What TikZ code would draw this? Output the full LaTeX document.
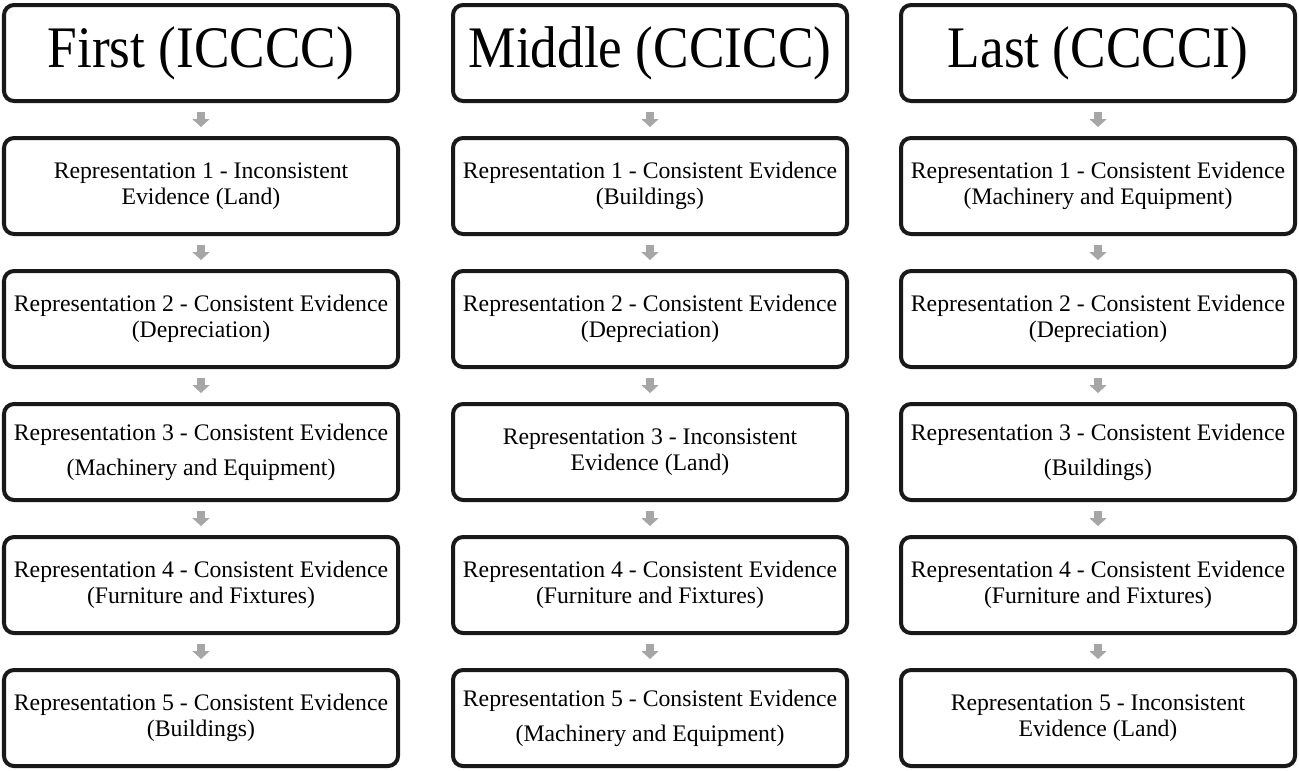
\documentclass[tikz,border=0pt]{standalone}
\usepackage{fontspec}
\setmainfont{Liberation Serif}
\newfontfamily\titlefont[FakeStretch=0.905]{Liberation Serif}
\usetikzlibrary{arrows.meta, positioning}
\tikzset{
    head/.style={draw=black!90, line width=0.08cm, rounded corners=0.2cm,
        minimum width=7.88cm, minimum height=1.92cm, inner sep=0pt,
        font=\titlefont\fontsize{33.5}{38}\selectfont},
    rep/.style={draw=black!90, line width=0.08cm, rounded corners=0.2cm,
        minimum width=7.88cm, minimum height=1.92cm, inner sep=0pt,
        align=center, font=\fontsize{13.5}{14.5}\selectfont},
    wide/.style={font=\fontsize{13.5}{20}\selectfont},
    flow/.style={draw=black!35, line width=0.17cm,
        -{Triangle[width=0.34cm, length=0.16cm]},
        shorten <=0.18cm, shorten >=0.18cm}
}
\begin{document}
\begin{tikzpicture}
    \useasboundingbox (0,0) rectangle (25.98,-15.4);
    % first
    \node[head] (f0) at (4.02,-1.06) {First (ICCCC)};
    \node[rep, below=0.66cm of f0] (f1) {Representation 1 - Inconsistent\\Evidence (Land)};
    \node[rep, below=0.66cm of f1] (f2) {Representation 2 - Consistent Evidence\\(Depreciation)};
    \node[rep, wide, below=0.66cm of f2] (f3) {Representation 3 - Consistent Evidence\\(Machinery and Equipment)};
    \node[rep, below=0.66cm of f3] (f4) {Representation 4 - Consistent Evidence\\(Furniture and Fixtures)};
    \node[rep, below=0.66cm of f4] (f5) {Representation 5 - Consistent Evidence\\(Buildings)};
    % middle
    \node[head] (m0) at (13.0,-1.06) {Middle (CCICC)};
    \node[rep, below=0.66cm of m0] (m1) {Representation 1 - Consistent Evidence\\(Buildings)};
    \node[rep, below=0.66cm of m1] (m2) {Representation 2 - Consistent Evidence\\(Depreciation)};
    \node[rep, below=0.66cm of m2] (m3) {Representation 3 - Inconsistent\\Evidence (Land)};
    \node[rep, below=0.66cm of m3] (m4) {Representation 4 - Consistent Evidence\\(Furniture and Fixtures)};
    \node[rep, wide, below=0.66cm of m4] (m5) {Representation 5 - Consistent Evidence\\(Machinery and Equipment)};
    % last
    \node[head] (l0) at (21.96,-1.06) {Last (CCCCI)};
    \node[rep, below=0.66cm of l0] (l1) {Representation 1 - Consistent Evidence\\(Machinery and Equipment)};
    \node[rep, below=0.66cm of l1] (l2) {Representation 2 - Consistent Evidence\\(Depreciation)};
    \node[rep, wide, below=0.66cm of l2] (l3) {Representation 3 - Consistent Evidence\\(Buildings)};
    \node[rep, below=0.66cm of l3] (l4) {Representation 4 - Consistent Evidence\\(Furniture and Fixtures)};
    \node[rep, below=0.66cm of l4] (l5) {Representation 5 - Inconsistent\\Evidence (Land)};
    % arrows
    \foreach \c in {f,m,l}{
        \foreach \i [count=\j from 1] in {0,...,4}{
            \draw[flow] (\c\i.south) -- (\c\j.north);
        }
    }
\end{tikzpicture}
\end{document}
